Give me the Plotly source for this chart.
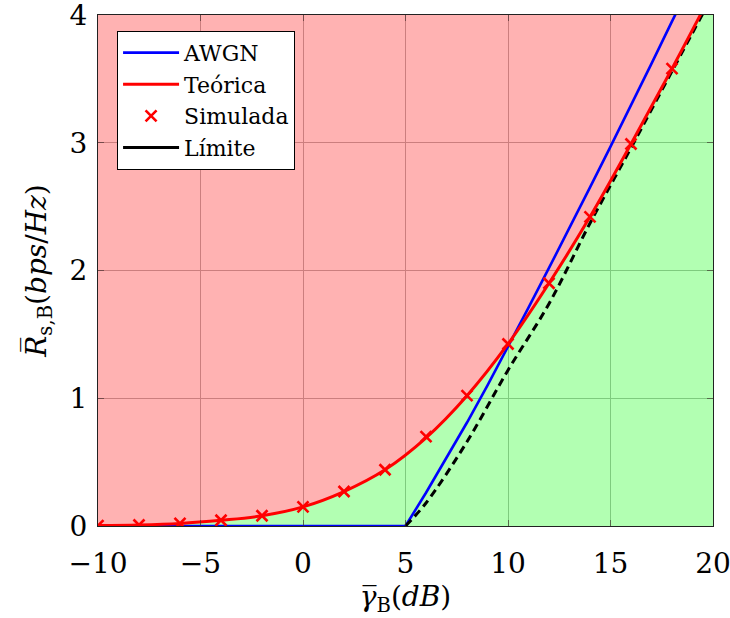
import plotly.graph_objects as go

# Average SNR of Bob, in dB
snr_theory = [-10, -8, -6, -4, -2, 0, 2, 4, 6, 8, 10, 12, 14, 16, 18, 20]
rate_theory = [0.003, 0.008, 0.02, 0.045, 0.08, 0.15, 0.27, 0.44, 0.69, 1.02,
               1.425, 1.90, 2.42, 2.99, 3.58, 4.19]

snr_sim = [-10, -8, -6, -4, -2, 0, 2, 4, 6, 8, 10, 12, 14, 16, 18]
rate_sim = [0.003, 0.008, 0.02, 0.045, 0.08, 0.15, 0.27, 0.44, 0.70, 1.02,
            1.425, 1.90, 2.42, 2.99, 3.58]

snr_awgn = [-10, 5, 6, 7, 8, 9, 10, 11, 12, 13, 14, 15, 16, 17, 18, 19, 20]
rate_awgn = [0, 0, 0.26, 0.53, 0.81, 1.10, 1.40, 1.71, 2.02, 2.33, 2.65,
             2.97, 3.29, 3.62, 3.95, 4.28, 4.60]

snr_limit = [5, 6, 8, 10, 12, 14, 16, 18, 20]
rate_limit = [0, 0.18, 0.66, 1.22, 1.74, 2.37, 2.96, 3.56, 4.16]

x_ticks = [-10, -5, 0, 5, 10, 15, 20]
y_ticks = [0, 1, 2, 3, 4]
x_range = [-10, 20]
y_range = [0, 4]
EPS = 1e-6

SERIF = "DejaVu Serif"

fig = go.Figure()

# upper edge of the plotting window, used as the ceiling of the red region
fig.add_trace(go.Scatter(x=snr_theory, y=[y_range[1]] * len(snr_theory),
                         mode="lines", line=dict(width=0, shape="spline"),
                         showlegend=False, hoverinfo="skip"))
# red region: above the theoretical secrecy rate
fig.add_trace(go.Scatter(x=snr_theory, y=rate_theory, mode="lines",
                         line=dict(width=0, shape="spline"),
                         fill="tonexty", fillcolor="rgba(255,0,0,0.3)",
                         showlegend=False, hoverinfo="skip"))
# green region: below the theoretical secrecy rate
fig.add_trace(go.Scatter(x=snr_theory, y=rate_theory, mode="lines",
                         line=dict(width=0, shape="spline"),
                         fill="tozeroy", fillcolor="rgba(0,255,0,0.3)",
                         showlegend=False, hoverinfo="skip"))

fig.add_trace(go.Scatter(x=snr_awgn, y=rate_awgn, mode="lines", name="AWGN",
                         line=dict(color="#0000ff", width=2.6)))
fig.add_trace(go.Scatter(x=snr_limit, y=rate_limit, mode="lines",
                         line=dict(color="black", width=3, dash="8px,5px",
                                   shape="spline"),
                         showlegend=False))
fig.add_trace(go.Scatter(x=snr_theory, y=rate_theory, mode="lines",
                         name="Teórica",
                         line=dict(color="#ff0000", width=3, shape="spline")))
fig.add_trace(go.Scatter(x=snr_sim, y=rate_sim, mode="markers",
                         name="Simulada",
                         marker=dict(symbol="x-thin", size=11, color="#ff0000",
                                     line=dict(color="#ff0000", width=2.6))))
# legend entry for the limit curve (solid swatch)
fig.add_trace(go.Scatter(x=[None], y=[None], mode="lines", name="Límite",
                         line=dict(color="black", width=3)))

axis_common = dict(
    showgrid=True, gridcolor="#b5b5b5", gridwidth=1,
    showline=True, linecolor="#222222", linewidth=1.2, mirror="ticks",
    ticks="inside", ticklen=6, tickcolor="rgba(60,40,40,0.6)",
    tickfont=dict(family=SERIF, size=28, color="black"),
    zeroline=False, layer="above traces", automargin=False,
    ticklabeloverflow="allow",
)

fig.update_xaxes(range=[x_range[0] - EPS, x_range[1] + EPS], tickvals=x_ticks,
                 ticklabelstandoff=12, **axis_common,
                 title=dict(text="<i>γ\u0305</i><sub>B</sub>(<i>dB</i>)",
                            font=dict(family=SERIF, size=28, color="black"),
                            standoff=7))
fig.update_yaxes(range=[y_range[0] - EPS, y_range[1] + EPS], tickvals=y_ticks,
                 ticklabelstandoff=4, **axis_common,
                 title=dict(text="<i>R\u0305</i><sub>s,B</sub>(<i>bps</i>/<i>Hz</i>)",
                            font=dict(family=SERIF, size=28, color="black"),
                            standoff=14))

fig.update_layout(
    width=730, height=618,
    font=dict(family=SERIF, color="black"),
    margin=dict(l=98, r=17, t=15, b=92, autoexpand=False),
    paper_bgcolor="white", plot_bgcolor="white",
    legend=dict(x=0.031, y=0.969, xanchor="left", yanchor="top",
                bgcolor="white", bordercolor="black", borderwidth=1,
                font=dict(family=SERIF, size=22, color="black"),
                itemwidth=56,
                tracegroupgap=0, traceorder="normal"),
    showlegend=True,
)

fig.write_html("out.html")
